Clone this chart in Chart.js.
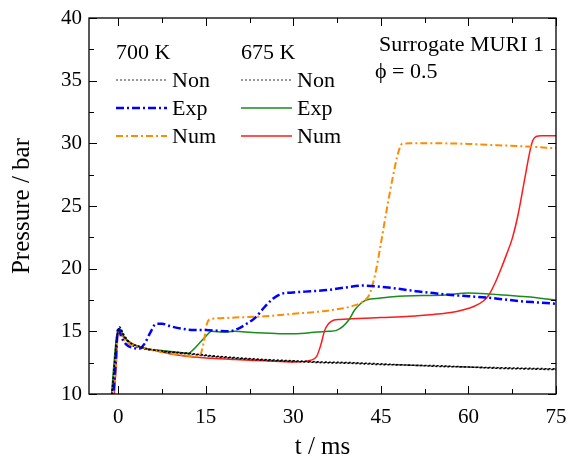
<!DOCTYPE html>
<html>
<head>
<meta charset="utf-8">
<script src="https://cdn.jsdelivr.net/npm/chart.js@4/dist/chart.umd.min.js"></script>
<style>
  html, body { margin: 0; padding: 0; background: #fff; }
  #wrap { width: 568px; height: 460px; }
</style>
</head>
<body>
<div id="wrap"><canvas id="c"></canvas></div>
<script>
// ticks
const xTicks = [0, 15, 30, 45, 60, 75];
const yTicks = [10, 15, 20, 25, 30, 35, 40];

// 700 K, non-reactive (dotted black)
const tNon700 = [-1.3, -0.8, -0.3, 0.2, 1, 2, 3.5, 5, 8, 12, 16, 20, 25, 30, 35, 40, 45, 50, 55, 60, 65, 70, 75];
const pNon700 = [9, 11.5, 14.2, 15.35, 14.7, 14.1, 13.8, 13.6, 13.4, 13.25, 13.05, 12.9, 12.75, 12.65, 12.55, 12.5, 12.4, 12.3, 12.25, 12.15, 12.1, 12.05, 12.0];
// 700 K, experiment (blue dash-dot)
const tExp700 = [-1.0, -0.5, 0, 0.5, 1.5, 2.5, 3.5, 4.5, 5.5, 6.5, 7.5, 9, 11, 13, 15, 17, 19, 20.5, 22, 23.5, 25, 26.5, 28, 30, 33, 36, 39, 42, 45, 48, 51, 54, 57, 60, 63, 66, 69, 72, 75];
const pExp700 = [9, 12, 15.3, 14.6, 13.9, 13.7, 13.6, 14.0, 14.9, 15.6, 15.6, 15.4, 15.2, 15.1, 15.1, 15.05, 15.0, 15.2, 15.6, 16.1, 16.9, 17.6, 18.0, 18.1, 18.2, 18.3, 18.5, 18.65, 18.55, 18.4, 18.2, 18.05, 17.9, 17.8, 17.7, 17.55, 17.4, 17.3, 17.2];
// 700 K, numerical (orange dash-dot)
const tNum700 = [-0.8, -0.4, 0, 1, 2.5, 5, 8, 11, 13, 14, 14.6, 15.2, 16, 17.5, 20, 25, 30, 35, 38, 40, 42, 43, 44, 45, 46, 47, 48, 48.6, 50, 55, 60, 65, 70, 75];
const pNum700 = [9, 12, 15.0, 14.3, 13.9, 13.6, 13.3, 13.1, 13.0, 13.1, 14.0, 15.6, 16.0, 16.05, 16.1, 16.2, 16.4, 16.6, 16.8, 17.0, 17.4, 17.9, 19.5, 22.0, 24.7, 27.2, 29.3, 29.95, 30.0, 30.0, 29.95, 29.85, 29.75, 29.6];
// 675 K, non-reactive (dotted black)
const tNon675 = [-1.2, -0.7, -0.2, 0.2, 1, 2, 3.5, 5, 8, 12, 16, 20, 25, 30, 35, 40, 45, 50, 55, 60, 65, 70, 75];
const pNon675 = [9, 11.8, 14.5, 15.2, 14.6, 14.0, 13.7, 13.55, 13.35, 13.2, 13.0, 12.85, 12.7, 12.6, 12.5, 12.45, 12.35, 12.3, 12.2, 12.15, 12.05, 12.0, 11.95];
// 675 K, experiment (green solid)
const tExp675 = [-1.3, -0.8, -0.3, 0.2, 1, 2, 3.5, 5, 7, 9, 11, 12, 13, 14, 15, 16, 18, 20, 23, 26, 29, 32, 34, 36, 37.5, 38.5, 39.5, 40.5, 41.5, 42.5, 45, 48, 52, 56, 60, 63, 66, 70, 75];
const pExp675 = [9, 12, 14.5, 15.2, 14.6, 14.1, 13.8, 13.6, 13.5, 13.4, 13.3, 13.25, 13.6, 14.1, 14.6, 15.0, 14.95, 15.0, 14.9, 14.85, 14.8, 14.85, 14.95, 15.0, 15.1, 15.4, 15.9, 16.7, 17.2, 17.5, 17.65, 17.8, 17.85, 17.9, 18.05, 18.0, 17.9, 17.75, 17.5];
// 675 K, numerical (red solid)
const tNum675 = [-0.8, -0.4, 0, 1, 2.5, 4, 6, 9, 12, 16, 20, 25, 30, 33, 34, 34.7, 35.4, 36.5, 38, 40, 45, 50, 54, 57, 59, 61, 62.5, 63.5, 64.5, 65.5, 66.5, 67.5, 68.5, 69.5, 70.5, 71, 71.6, 72.5, 75];
const pNum675 = [9, 12, 15.0, 14.5, 14.0, 13.75, 13.5, 13.2, 13.0, 12.85, 12.75, 12.65, 12.55, 12.7, 13.0, 13.9, 15.1, 15.8, 15.95, 16.0, 16.1, 16.2, 16.35, 16.5, 16.7, 17.0, 17.4, 17.9, 18.8, 19.9, 21.1, 22.4, 24.3, 26.8, 29.3, 30.2, 30.55, 30.6, 30.6];

const pts = (t, p) => t.map((v, i) => ({ x: v, y: p[i] }));

const FONT = "'Liberation Serif', 'Times New Roman', serif";

// legend: column header, then rows (dataset index)
const legendCols = [
  { title: '700 K', x: 116, sets: [0, 1, 2] },
  { title: '675 K', x: 241, sets: [3, 4, 5] },
];
const legendRows = ['Non', 'Exp', 'Num'];

const frame = {
  id: 'frame',
  afterDatasetsDraw(chart) {
    const { ctx, chartArea: a, scales } = chart;
    ctx.save();
    ctx.strokeStyle = '#000';
    ctx.lineWidth = 1.3;
    ctx.strokeRect(a.left, a.top, a.right - a.left, a.bottom - a.top);
    ctx.lineWidth = 1;
    ctx.beginPath();
    // inward ticks, major + minor, on all four sides
    for (let v = 0; v <= 75; v += 7.5) {
      const px = Math.round(scales.x.getPixelForValue(v)) + 0.5;
      const len = (v % 15 === 0) ? 8 : 5;
      ctx.moveTo(px, a.bottom); ctx.lineTo(px, a.bottom - len);
      ctx.moveTo(px, a.top); ctx.lineTo(px, a.top + len);
    }
    for (let v = 10; v <= 40; v += 2.5) {
      const py = Math.round(scales.y.getPixelForValue(v)) + 0.5;
      const len = (v % 5 === 0) ? 8 : 5;
      ctx.moveTo(a.left, py); ctx.lineTo(a.left + len, py);
      ctx.moveTo(a.right, py); ctx.lineTo(a.right - len, py);
    }
    ctx.stroke();

    // legend
    ctx.fillStyle = '#000';
    ctx.font = '22px ' + FONT;
    ctx.textBaseline = 'middle';
    ctx.textAlign = 'left';
    legendCols.forEach(col => {
      ctx.fillText(col.title, col.x, 53);
      col.sets.forEach((di, r) => {
        const ds = chart.data.datasets[di];
        const y = 80 + r * 28;
        ctx.save();
        ctx.strokeStyle = (di === 0 || di === 3) ? '#777' : ds.borderColor;
        ctx.lineWidth = ds.borderWidth;
        ctx.setLineDash(ds.borderDash || []);
        ctx.beginPath();
        ctx.moveTo(col.x, y); ctx.lineTo(col.x + 51, y);
        ctx.stroke();
        ctx.restore();
        ctx.fillText(legendRows[r], col.x + 56, y + 1);
      });
    });
    ctx.textAlign = 'right';
    ctx.fillText('Surrogate MURI 1', 544, 45);
    ctx.textAlign = 'left';
    ctx.fillText('\u03d5 = 0.5', 375, 72);
    ctx.restore();
  }
};

new Chart(document.getElementById('c'), {
  type: 'line',
  data: {
    datasets: [
      { label: '700 K Non', data: pts(tNon700, pNon700), borderColor: '#000', borderWidth: 1.6, borderDash: [2, 2] },
      { label: '700 K Exp', data: pts(tExp700, pExp700), borderColor: '#0000ff', borderWidth: 2.5, borderDash: [8, 3, 2, 3] },
      { label: '700 K Num', data: pts(tNum700, pNum700), borderColor: '#ff8c00', borderWidth: 2, borderDash: [7, 3, 2, 3] },
      { label: '675 K Non', data: pts(tNon675, pNon675), borderColor: '#000', borderWidth: 1.6, borderDash: [2, 2] },
      { label: '675 K Exp', data: pts(tExp675, pExp675), borderColor: '#1a8c1a', borderWidth: 1.5 },
      { label: '675 K Num', data: pts(tNum675, pNum675), borderColor: '#ff1a1a', borderWidth: 1.5 },
    ],
  },
  options: {
    responsive: true,
    maintainAspectRatio: false,
    animation: false,
    devicePixelRatio: 1,
    layout: { padding: { top: 18, right: 12, left: 0, bottom: 0 } },
    elements: {
      point: { radius: 0 },
      line: { cubicInterpolationMode: 'monotone', fill: false },
    },
    plugins: { legend: { display: false }, tooltip: { enabled: false } },
    scales: {
      x: {
        type: 'linear', min: -5, max: 75,
        afterBuildTicks: s => { s.ticks = xTicks.map(v => ({ value: v })); },
        afterFit: s => { s.height = 66; s.paddingLeft = 0; s.paddingRight = 0; },
        grid: { display: false, drawTicks: false }, border: { display: false },
        ticks: { color: '#000', font: { family: FONT, size: 21 }, padding: 11, maxRotation: 0 },
        title: { display: true, text: 't / ms', color: '#000', font: { family: FONT, size: 25, lineHeight: 1 }, padding: { top: 0, bottom: 0 } },
      },
      y: {
        type: 'linear', min: 10, max: 40,
        afterBuildTicks: s => { s.ticks = yTicks.map(v => ({ value: v })); },
        afterFit: s => { s.width = 89; s.paddingTop = 0; s.paddingBottom = 0; },
        grid: { display: false, drawTicks: false }, border: { display: false },
        ticks: { color: '#000', font: { family: FONT, size: 21 }, padding: 7 },
        title: { display: true, text: 'Pressure / bar', color: '#000', font: { family: FONT, size: 25, lineHeight: 1 }, padding: { top: 10, bottom: 0 } },
      },
    },
  },
  plugins: [frame],
});
</script>
</body>
</html>
